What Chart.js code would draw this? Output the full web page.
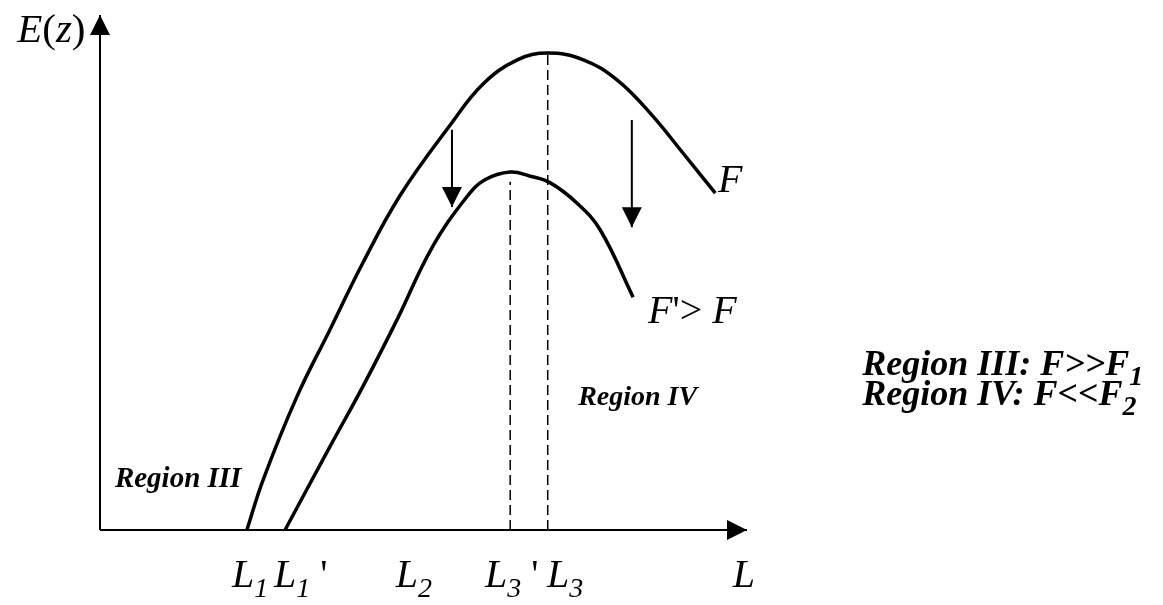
<!DOCTYPE html>
<html>
<head>
<meta charset="utf-8">
<script src="https://cdn.jsdelivr.net/npm/chart.js@4.4.1/dist/chart.umd.min.js"></script>
<style>
  html, body { margin: 0; padding: 0; background: #fff; }
  canvas { display: block; }
</style>
</head>
<body>
<canvas id="diagram" width="1163" height="605"></canvas>
<script>
// curve F (upper)
const curveL = [2.27, 2.52, 3.04, 3.55, 4.06, 4.64, 5.41, 5.92, 6.45, 6.92, 7.47, 7.99, 8.50, 9.01, 9.51];
const curveE = [0, 0.97, 2.58, 3.88, 5.18, 6.50, 7.86, 8.66, 9.13, 9.26, 9.13, 8.74, 8.10, 7.32, 6.54];
// curve F' > F (lower)
const shiftedL = [2.86, 3.55, 4.06, 4.59, 5.13, 5.67, 5.95, 6.34, 6.65, 6.96, 7.37, 7.73, 8.24];
const shiftedE = [0, 1.61, 2.78, 4.08, 5.48, 6.47, 6.80, 6.95, 6.87, 6.74, 6.35, 5.83, 4.52];
// peaks L3' and L3 (dashed drop lines)
const peakL = [6.34, 6.92];
const peakE = [6.76, 9.26];
// downward shift arrows: L, E from, E to
const shiftL = [5.44, 8.22];
const shiftFrom = [7.77, 7.96];
const shiftTo = [6.27, 5.88];
// labels under the L axis
const tickAt = [2.04, 2.69, 4.57, 5.95, 6.91, 9.78];
const tickSub = ['1', '1', '2', '3', '3', ''];
const tickPrime = ['', "'", '', "'", '', ''];

const SERIF = '"Liberation Serif", "Times New Roman", serif';

function pts(xs, ys) {
  return xs.map((x, i) => ({ x, y: ys[i] }));
}

function lineSet(data, extra) {
  return Object.assign({
    data,
    showLine: true,
    pointRadius: 0,
    borderColor: '#000',
    borderWidth: 2,
    clip: false
  }, extra || {});
}

const datasets = [
  lineSet(pts([0, 10], [0, 0]), { arrowHead: true }),
  lineSet(pts([0, 0], [0, 10]), { arrowHead: true }),
  lineSet(pts(curveL, curveE), { borderWidth: 3.5, tension: 0.4, borderCapStyle: 'butt' }),
  lineSet(pts(shiftedL, shiftedE), { borderWidth: 3.5, tension: 0.4, borderCapStyle: 'butt' })
];
peakL.forEach((l, i) => {
  datasets.push(lineSet(pts([l, l], [0, peakE[i]]), { borderWidth: 1.5, borderDash: [10, 5] }));
});
shiftL.forEach((l, i) => {
  datasets.push(lineSet(pts([l, l], [shiftFrom[i], shiftTo[i]]), { borderWidth: 2, arrowHead: true }));
});

// parts: [text, style, size, dy]
function drawRich(ctx, x, y, parts) {
  let cx = x;
  parts.forEach(([text, style, size, dy]) => {
    ctx.font = `${style} ${size}px ${SERIF}`;
    ctx.fillText(text, cx, y + (dy || 0));
    cx += ctx.measureText(text).width;
  });
}

const arrowPlugin = {
  id: 'arrowHeads',
  afterDatasetsDraw(chart) {
    const ctx = chart.ctx;
    chart.data.datasets.forEach((ds, i) => {
      if (!ds.arrowHead) return;
      const els = chart.getDatasetMeta(i).data;
      const tip = els[els.length - 1];
      const prev = els[els.length - 2];
      const ang = Math.atan2(tip.y - prev.y, tip.x - prev.x);
      const len = 20, half = 10;
      const bx = tip.x - len * Math.cos(ang), by = tip.y - len * Math.sin(ang);
      ctx.save();
      ctx.fillStyle = '#000';
      ctx.beginPath();
      ctx.moveTo(tip.x, tip.y);
      ctx.lineTo(bx - half * Math.sin(ang), by + half * Math.cos(ang));
      ctx.lineTo(bx + half * Math.sin(ang), by - half * Math.cos(ang));
      ctx.closePath();
      ctx.fill();
      ctx.restore();
    });
  }
};

const textPlugin = {
  id: 'diagramText',
  afterDraw(chart) {
    const ctx = chart.ctx;
    const px = (v) => chart.scales.x.getPixelForValue(v);
    const py = (v) => chart.scales.y.getPixelForValue(v);
    ctx.save();
    ctx.fillStyle = '#000';
    ctx.textBaseline = 'alphabetic';
    ctx.textAlign = 'left';

    // axis titles
    drawRich(ctx, px(-1.28), py(9.48), [['E', 'italic', 41], ['(', 'normal', 41], ['z', 'italic', 41], [')', 'normal', 41]]);
    tickAt.forEach((v, i) => {
      const parts = [['L', 'italic', 40]];
      if (tickSub[i]) parts.push([tickSub[i], 'italic', 28, 10]);
      if (tickPrime[i]) parts.push([' ' + tickPrime[i], 'normal', 40]);
      drawRich(ctx, px(v), py(-1.11), parts);
    });

    // curve labels
    drawRich(ctx, px(9.55), py(6.56), [['F', 'italic', 40]]);
    drawRich(ctx, px(8.47), py(4.02), [['F', 'italic', 40], ["'> ", 'normal', 40], ['F', 'italic', 40]]);

    // regions
    drawRich(ctx, px(0.23), py(0.83), [['Region III', 'italic bold', 29]]);
    drawRich(ctx, px(7.39), py(2.43), [['Region IV', 'italic bold', 28]]);

    // legend
    drawRich(ctx, px(11.78), py(3.01), [['Region III: F>>F', 'italic bold', 36], ['1', 'italic bold', 28, 10]]);
    drawRich(ctx, px(11.78), py(2.43), [['Region IV: F<<F', 'italic bold', 36], ['2', 'italic bold', 28, 10]]);
    ctx.restore();
  }
};

new Chart(document.getElementById('diagram'), {
  type: 'scatter',
  data: { datasets },
  options: {
    responsive: false,
    animation: false,
    layout: { padding: { left: 100, right: 416, top: 15, bottom: 75 } },
    scales: {
      x: { type: 'linear', min: 0, max: 10, display: false },
      y: { type: 'linear', min: 0, max: 10, display: false }
    },
    plugins: {
      legend: { display: false },
      tooltip: { enabled: false }
    }
  },
  plugins: [arrowPlugin, textPlugin]
});
</script>
</body>
</html>
